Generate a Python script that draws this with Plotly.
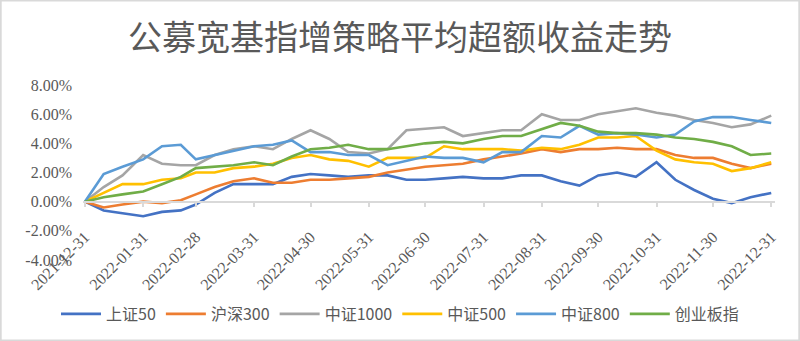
import plotly.graph_objects as go

dates = ["2021-12-31", "2022-01-10", "2022-01-20", "2022-01-31", "2022-02-10", "2022-02-20",
         "2022-02-28", "2022-03-10", "2022-03-20", "2022-03-31", "2022-04-10", "2022-04-20",
         "2022-04-30", "2022-05-10", "2022-05-20", "2022-05-31", "2022-06-10", "2022-06-20",
         "2022-06-30", "2022-07-10", "2022-07-20", "2022-07-31", "2022-08-10", "2022-08-20",
         "2022-08-31", "2022-09-10", "2022-09-20", "2022-09-30", "2022-10-10", "2022-10-20",
         "2022-10-31", "2022-11-10", "2022-11-20", "2022-11-30", "2022-12-10", "2022-12-20",
         "2022-12-31"]

sz50 = [0.0, -0.6, -0.8, -1.0, -0.7, -0.6, -0.2, 0.6, 1.2, 1.2, 1.2, 1.7,
        1.9, 1.8, 1.7, 1.8, 1.8, 1.5, 1.5, 1.6, 1.7, 1.6, 1.6, 1.8,
        1.8, 1.4, 1.1, 1.8, 2.0, 1.7, 2.7, 1.5, 0.8, 0.2, -0.1, 0.3, 0.6]
hs300 = [0.0, -0.4, -0.2, 0.0, -0.1, 0.1, 0.5, 1.0, 1.4, 1.6, 1.3, 1.3,
         1.5, 1.5, 1.6, 1.7, 2.0, 2.2, 2.4, 2.5, 2.6, 2.9, 3.1, 3.3,
         3.6, 3.4, 3.6, 3.6, 3.7, 3.6, 3.6, 3.2, 3.0, 3.0, 2.6, 2.3, 2.6]
zz1000 = [0.0, 1.0, 1.8, 3.2, 2.6, 2.5, 2.5, 3.2, 3.6, 3.8, 3.6, 4.3,
          4.9, 4.3, 3.4, 3.3, 3.6, 4.9, 5.0, 5.1, 4.5, 4.7, 4.9, 4.9,
          6.0, 5.6, 5.6, 6.0, 6.2, 6.4, 6.1, 5.9, 5.6, 5.4, 5.1, 5.3, 5.9]
zz500 = [0.0, 0.6, 1.2, 1.2, 1.5, 1.6, 2.0, 2.0, 2.3, 2.4, 2.6, 3.0,
         3.2, 2.9, 2.8, 2.4, 3.0, 3.0, 3.0, 3.8, 3.6, 3.6, 3.6, 3.5,
         3.7, 3.6, 3.9, 4.4, 4.4, 4.5, 3.5, 2.9, 2.7, 2.6, 2.1, 2.3, 2.7]
zz800 = [0.0, 1.9, 2.4, 2.9, 3.8, 3.9, 2.9, 3.2, 3.5, 3.8, 3.9, 4.2,
         3.4, 3.4, 3.2, 3.2, 2.5, 2.8, 3.1, 3.0, 3.0, 2.7, 3.4, 3.4,
         4.5, 4.4, 5.2, 4.6, 4.7, 4.6, 4.4, 4.6, 5.5, 5.8, 5.8, 5.6, 5.4]
cyb = [0.0, 0.3, 0.5, 0.7, 1.2, 1.7, 2.3, 2.4, 2.5, 2.7, 2.5, 3.1,
       3.6, 3.7, 3.9, 3.6, 3.6, 3.8, 4.0, 4.1, 4.0, 4.3, 4.5, 4.5,
       5.0, 5.4, 5.2, 4.8, 4.7, 4.7, 4.6, 4.4, 4.3, 4.1, 3.8, 3.2, 3.3]

series_names = ["上证50", "沪深300", "中证1000", "中证500", "中证800", "创业板指"]
series_values = [sz50, hs300, zz1000, zz500, zz800, cyb]
colors = ["#4472C4", "#ED7D31", "#A5A5A5", "#FFC000", "#5B9BD5", "#70AD47"]

tick_dates = ["2021-12-31", "2022-01-31", "2022-02-28", "2022-03-31", "2022-04-30",
              "2022-05-31", "2022-06-30", "2022-07-31", "2022-08-31", "2022-09-30",
              "2022-10-31", "2022-11-30", "2022-12-31"]
y_ticks = [-4, -2, 0, 2, 4, 6, 8]
y_tick_text = ["-4.00%", "-2.00%", "0.00%", "2.00%", "4.00%", "6.00%", "8.00%"]

title_text = "公募宽基指增策略平均超额收益走势"

fig = go.Figure()
for name, vals, col in zip(series_names, series_values, colors):
    fig.add_trace(go.Scatter(x=dates, y=vals, name=name, mode="lines",
                             line=dict(color=col, width=2.6)))

W, H = 800, 341
L, R, T, B = 83, 25, 85, 81
pw, ph = W - L - R, H - T - B

fig.update_layout(
    width=W, height=H, template="none",
    margin=dict(l=L, r=R, t=T, b=B, pad=0),
    paper_bgcolor="white", plot_bgcolor="white",
    title=dict(text=title_text, x=0.5, xref="container", xanchor="center",
               y=1 - 38 / H, yref="container", yanchor="middle",
               font=dict(family="Noto Sans CJK SC", size=34, color="#595959")),
    xaxis=dict(type="date", range=["2021-12-30", "2023-01-02"],
               tickvals=tick_dates, tickformat="%Y-%m-%d", tickangle=-45,
               anchor="free", position=(0 - y_ticks[0]) / (y_ticks[-1] - y_ticks[0]),
               showline=True, linecolor="#D9D9D9", linewidth=1.5,
               ticks="outside", ticklen=5, tickcolor="#D9D9D9", tickwidth=1.5,
               showgrid=False, zeroline=False, automargin=False,
               ticklabelstandoff=14,
               tickfont=dict(family="Liberation Serif", size=16, color="#595959")),
    yaxis=dict(range=[y_ticks[0], y_ticks[-1]], tickvals=y_ticks, ticktext=y_tick_text,
               showgrid=False, zeroline=False, showline=False, ticks="",
               ticklabelstandoff=10, automargin=False,
               tickfont=dict(family="Liberation Serif", size=16, color="#595959")),
    legend=dict(orientation="h", x=0.5, xref="container", xanchor="center",
                y=1 - 314 / H, yref="container", yanchor="middle",
                font=dict(family="Noto Sans CJK SC", size=16, color="#595959"),
                itemwidth=40, tracegroupgap=0),
    showlegend=True,
    shapes=[dict(type="rect", xref="paper", yref="paper",
                 x0=-L / pw + 0.001, x1=1 + R / pw - 0.001,
                 y0=-B / ph + 0.003, y1=1 + T / ph - 0.003,
                 line=dict(color="#D9D9D9", width=2), fillcolor="rgba(0,0,0,0)",
                 layer="below")],
)

fig.write_html("out.html")
